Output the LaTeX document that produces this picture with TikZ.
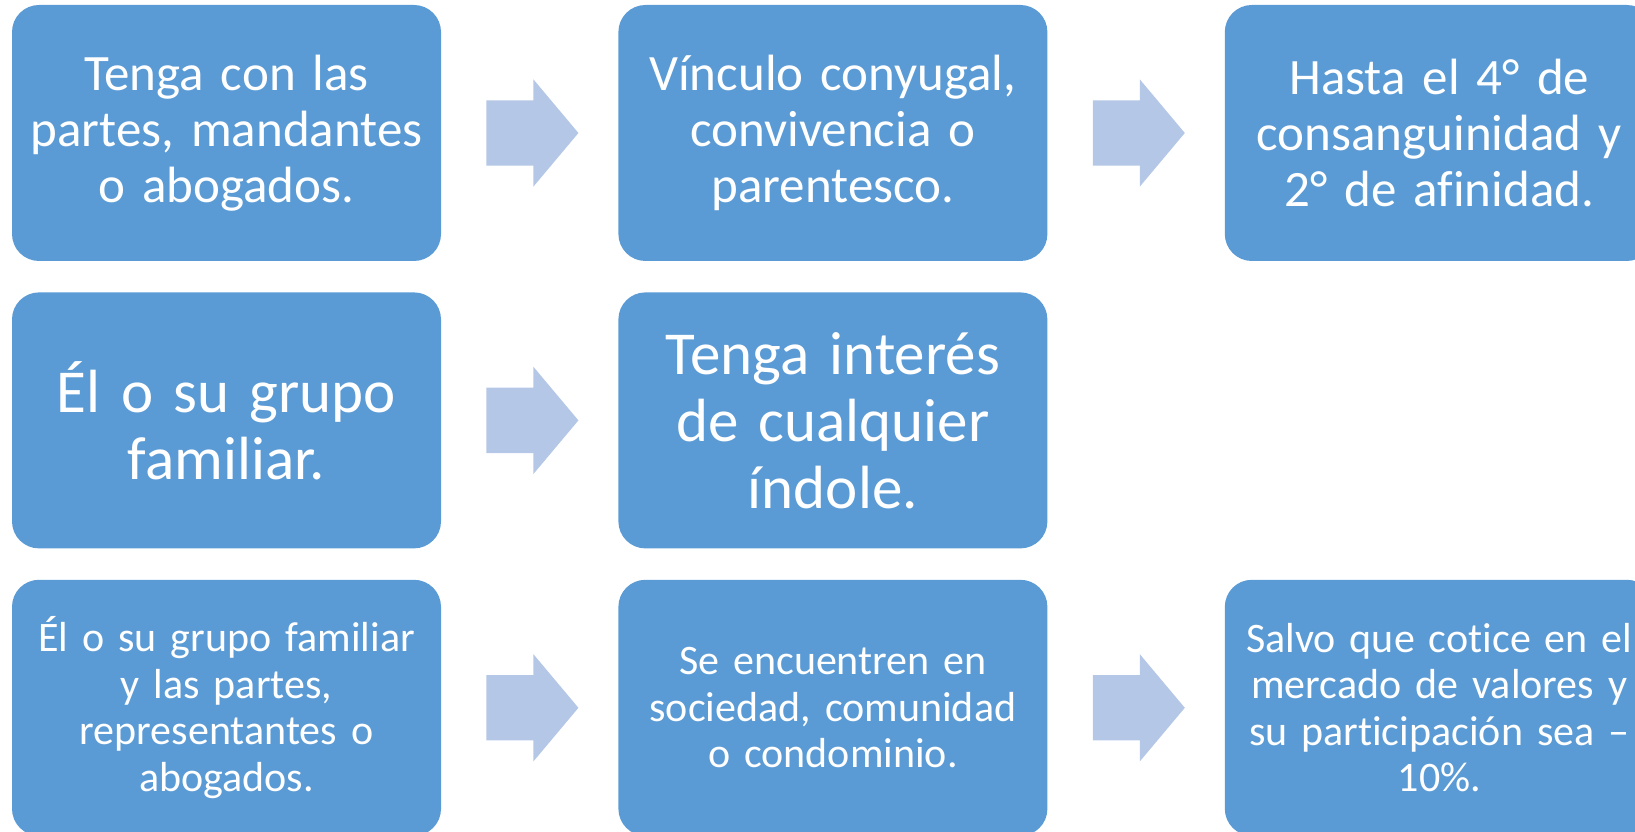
\documentclass[tikz,border=0pt]{standalone}
\usepackage{fontspec}
\setmainfont{Carlito}[Ligatures=NoCommon,WordSpace=0.8]
\usetikzlibrary{positioning,shapes.arrows}
\definecolor{boxblue}{HTML}{5B9BD5}
\definecolor{arrowblue}{HTML}{B4C7E7}

\begin{document}
\begin{tikzpicture}[x=1pt,y=1pt,node distance=177pt,
  box node/.style={rectangle,rounded corners=27pt,fill=boxblue,text=white,minimum width=429pt,minimum height=256pt,text width=415pt,align=center,inner sep=0pt},
  big/.style={font=\fontsize{51}{56}\selectfont},
  huge/.style={font=\fontsize{61}{67}\selectfont},
  small/.style={font=\fontsize{42}{46.5}\selectfont},
  arrow node/.style={single arrow,fill=arrowblue,inner xsep=0pt,inner ysep=32.5pt,minimum height=92pt,single arrow head extend=21pt,single arrow tip angle=100}]
  \useasboundingbox (0,0) rectangle (1635,832);

  \node[box node,big] (1) at (226.5,699) {Tenga con las\\partes, mandantes\\o abogados.};
  \node[box node,big,right=of 1] (2) {Vínculo conyugal,\\convivencia o\\parentesco.};
  \node[box node,big,right=of 2] (3) {Hasta el 4° de\\consanguinidad y\\2° de afinidad.};
  \node[box node,huge,below=31pt of 1] (4) {Él o su grupo\\familiar.};
  \node[box node,huge,right=of 4] (5) {Tenga interés\\de cualquier\\índole.};
  \node[box node,small,below=31pt of 4] (6) {Él o su grupo familiar\\y las partes,\\representantes o\\abogados.};
  \node[box node,small,right=of 6] (7) {Se encuentren en\\sociedad, comunidad\\o condominio.};
  \node[box node,small,right=of 7] (8) {Salvo que cotice en el\\mercado de valores y\\su participación sea –\\10\%.};

  \node[arrow node,right=45pt of 1] (12) {};
  \node[arrow node,right=45pt of 2] (23) {};
  \node[arrow node,right=45pt of 4] (45) {};
  \node[arrow node,right=45pt of 6] (67) {};
  \node[arrow node,right=45pt of 7] (78) {};
\end{tikzpicture}
\end{document}
